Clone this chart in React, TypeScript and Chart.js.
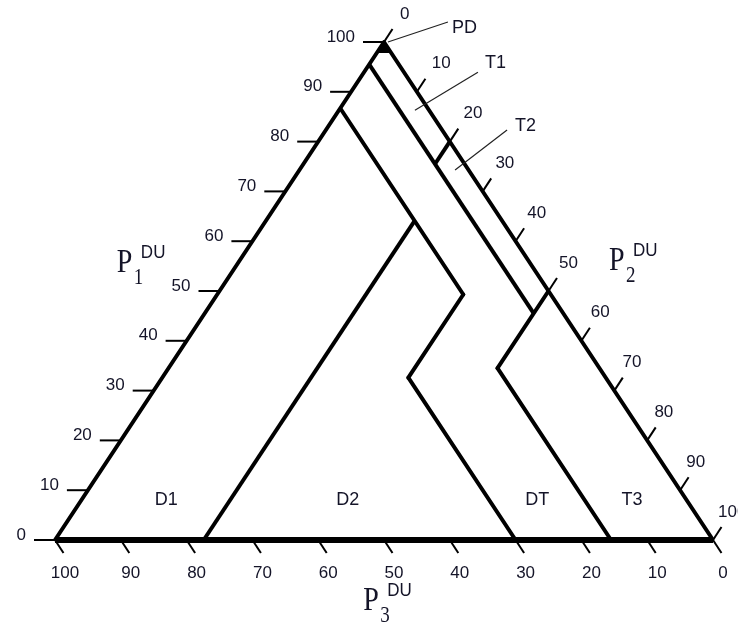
import React, { useEffect, useRef } from "react";
import { Chart, registerables } from "chart.js";

Chart.register(...registerables);

// ---- data (ternary points given as [P1, P2]; P3 = 100 - P1 - P2) ----
const TICK_VALUES = [0, 10, 20, 30, 40, 50, 60, 70, 80, 90, 100];
const P1_TICK_LABELS = ["0", "10", "20", "30", "40", "50", "60", "70", "80", "90", "100"];
const P2_TICK_LABELS = ["0", "10", "20", "30", "40", "50", "60", "70", "80", "90", "100"];
const P3_TICK_LABELS = ["100", "90", "80", "70", "60", "50", "40", "30", "20", "10", "0"];

const OUTER_SIDES: number[][] = [[0, 0], [100, 0], [0, 100]];
const OUTER_BASE: number[][] = [[0, 0], [0, 100]];
const LINE_T_INNER: number[][] = [[95.5, 0], [45.5, 50]];
const LINE_T_DT: number[][] = [[50, 50], [34.5, 50], [0, 84.5]];
const LINE_D2_DT: number[][] = [[86.7, 0], [49.3, 37.4], [32.6, 37.4], [0, 70]];
const LINE_D1_D2: number[][] = [[0, 22.6], [64.1, 22.6]];
const LINE_T1_T2: number[][] = [[80, 20], [75.5, 20]];
const PD_CAP: number[][] = [[98, 0], [98, 2], [100, 0]];

const REGION_NAMES = ["D1", "D2", "DT", "T3"];
const REGION_P1 = [8, 8, 8, 8];
const REGION_P2 = [12.9, 40.5, 69.3, 83.7];

const CALLOUT_NAMES = ["PD", "T1", "T2"];
const CALLOUT_P1 = [100, 86.3, 74.3];
const CALLOUT_P2 = [0.6, 11.55, 23.65];

const AXIS_SUBS = ["1", "2", "3"];

const toXY = (p: number[]) => ({ x: p[1] + p[0] / 2, y: p[0] });

export default function App() {
  const ref = useRef<HTMLCanvasElement | null>(null);

  useEffect(() => {
    if (!ref.current) return;

    const mk = (pts: number[][], w: number, bends = false) => ({
      data: pts.map(toXY),
      showLine: true,
      fill: false,
      borderColor: "#000",
      backgroundColor: "#000",
      borderWidth: w,
      pointRadius: pts.map((_, i) => (bends && i > 0 && i < pts.length - 1 ? 2 : 0)),
      pointBorderWidth: 0,
      pointHoverRadius: 0,
      borderJoinStyle: "round" as const,
      borderCapStyle: "butt" as const,
      clip: false as const,
    });

    const overlay = {
      id: "ternaryOverlay",
      afterDatasetsDraw(chart: any) {
        const { ctx } = chart;
        const sx = chart.scales.x;
        const sy = chart.scales.y;
        const px = (p1: number, p2: number) => [
          sx.getPixelForValue(p2 + p1 / 2),
          sy.getPixelForValue(p1),
        ];
        const seg = (x1: number, y1: number, x2: number, y2: number, w: number) => {
          ctx.beginPath();
          ctx.lineWidth = w;
          ctx.moveTo(x1, y1);
          ctx.lineTo(x2, y2);
          ctx.stroke();
        };
        const text = (
          t: string, x: number, y: number, font: string,
          align: CanvasTextAlign, baseline: CanvasTextBaseline = "middle", scaleY = 1
        ) => {
          ctx.save();
          ctx.font = font;
          ctx.textAlign = align;
          ctx.textBaseline = baseline;
          ctx.translate(x, y);
          ctx.scale(1, scaleY);
          ctx.fillText(t, 0, 0);
          ctx.restore();
        };

        ctx.save();
        ctx.strokeStyle = "#000";
        ctx.fillStyle = "#000";

        // PD cap
        ctx.beginPath();
        PD_CAP.forEach((p, i) => {
          const [a, b] = px(p[0], p[1]);
          if (i === 0) ctx.moveTo(a, b);
          else ctx.lineTo(a, b);
        });
        ctx.closePath();
        ctx.fill();
        ctx.lineWidth = 2;
        ctx.stroke();

        const tickFont = '17px "Liberation Sans", Arial, sans-serif';
        ctx.fillStyle = "#141428";
        TICK_VALUES.forEach((k, i) => {
          // left axis (P1)
          const [lx, ly] = px(k, 0);
          seg(lx - 21, ly, lx, ly, 2);
          text(P1_TICK_LABELS[i], lx - 29, ly - 5, tickFont, "right");
          // right axis (P2)
          const [rx, ry] = px(100 - k, k);
          seg(rx, ry, rx + 8.5, ry - 13, 2);
          text(P2_TICK_LABELS[i], rx + 16 - 1.1 * i, ry - 28, tickFont, "left");
          // bottom axis (P3)
          const [bx, by] = px(0, k);
          seg(bx, by, bx + 8.5, by + 13, 2);
          text(P3_TICK_LABELS[i], bx + 10, by + 33, tickFont, "center");
        });

        // region labels
        const regFont = '18px "Liberation Sans", Arial, sans-serif';
        REGION_NAMES.forEach((n, i) => {
          const [a, b] = px(REGION_P1[i], REGION_P2[i]);
          text(n, a, b, regFont, "center");
        });

        // callouts with leader lines
        const leaderVec = [[60, -20], [63, -38], [52, -40]];
        const textOff = [[4, 6], [7, -9], [8, -4]];
        ctx.strokeStyle = "#222";
        CALLOUT_NAMES.forEach((n, i) => {
          const [a, b] = px(CALLOUT_P1[i], CALLOUT_P2[i]);
          const ex = a + leaderVec[i][0];
          const ey = b + leaderVec[i][1];
          seg(a, b, ex, ey, 1.2);
          text(n, ex + textOff[i][0], ey + textOff[i][1], regFont, "left");
        });

        // axis titles P_i^DU
        const titleAnchors = [px(53.8, -17.5), px(54.2, 57.1), px(-14.1, 53.9)];
        titleAnchors.forEach(([a, b], i) => {
          text("P", a, b, '28px "Liberation Serif", "Times New Roman", serif', "left", "alphabetic", 1.2);
          text(AXIS_SUBS[i], a + 17, b + 12, '19px "Liberation Serif", "Times New Roman", serif', "left", "alphabetic", 1.2);
          text("DU", a + 24, b - 14, '17px "Liberation Sans", Arial, sans-serif', "left", "alphabetic", 1.1);
        });

        ctx.restore();
      },
    };

    const chart = new Chart(ref.current, {
      type: "scatter",
      data: {
        datasets: [
          mk(OUTER_SIDES, 4),
          mk(OUTER_BASE, 6),
          mk(LINE_T_INNER, 4),
          mk(LINE_T_DT, 4, true),
          mk(LINE_D2_DT, 4, true),
          mk(LINE_D1_D2, 4),
          mk(LINE_T1_T2, 4),
        ] as any,
      },
      options: {
        animation: false,
        responsive: false,
        devicePixelRatio: 1,
        layout: { padding: { left: 55, right: 25, top: 42, bottom: 90 } },
        plugins: { legend: { display: false }, tooltip: { enabled: false } },
        events: [],
        scales: {
          x: { type: "linear", min: 0, max: 100, display: false },
          y: { type: "linear", min: 0, max: 100, display: false },
        },
      },
      plugins: [overlay],
    });

    return () => chart.destroy();
  }, []);

  return (
    <div style={{ position: "absolute", left: 0, top: 0, width: 738, height: 630, background: "#fff" }}>
      <canvas ref={ref} width={738} height={630} />
    </div>
  );
}
